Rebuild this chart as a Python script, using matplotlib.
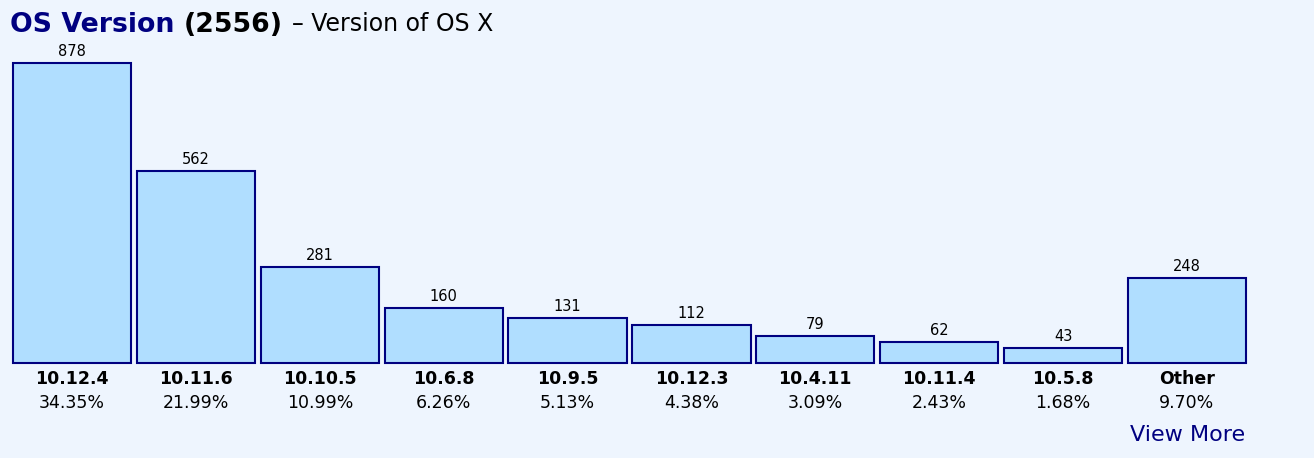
import matplotlib
matplotlib.use('Agg')
import matplotlib.pyplot as plt

# chart data
versions = ['10.12.4', '10.11.6', '10.10.5', '10.6.8', '10.9.5', '10.12.3', '10.4.11', '10.11.4', '10.5.8', 'Other']
counts = [878, 562, 281, 160, 131, 112, 79, 62, 43, 248]
percents = ['34.35%', '21.99%', '10.99%', '6.26%', '5.13%', '4.38%', '3.09%', '2.43%', '1.68%', '9.70%']
total = 2556

W, H = 1314, 458
bg = '#eef5fe'
navy = '#000080'

fig = plt.figure(figsize=(W / 100, H / 100), dpi=100, facecolor=bg)
ax = fig.add_axes([13 / W, 95 / H, 1233 / W, 300 / H])
ax.set_facecolor(bg)

x = list(range(len(versions)))
bars = ax.bar(x, counts, width=0.955, color='#b0deff', edgecolor=navy, linewidth=1.5)
for b in bars:
    b.set_clip_on(False)
ax.set_xlim(-0.4775, len(versions) - 1 + 0.4775)
ax.set_ylim(0, max(counts))
ax.axis('off')

for i, c in enumerate(counts):
    ax.annotate(str(c), (i, c), xytext=(0, 3), textcoords='offset points',
                ha='center', va='bottom', fontsize=10.5, annotation_clip=False)
    ax.annotate(versions[i], (i, 0), xytext=(0, -5), textcoords='offset points',
                ha='center', va='top', fontsize=12.5, fontweight='bold', annotation_clip=False)
    ax.annotate(percents[i], (i, 0), xytext=(0, -22), textcoords='offset points',
                ha='center', va='top', fontsize=12.5, annotation_clip=False)

# title pieces, laid out one after another
fig.canvas.draw()
r = fig.canvas.get_renderer()
t1 = fig.text(10 / W, 1 - 32 / H, 'OS Version ', fontsize=19.3, fontweight='bold', color=navy)
x1 = t1.get_window_extent(r).x1
t2 = fig.text(x1 / W, 1 - 32 / H, f'({total})', fontsize=19.3, fontweight='bold', color='black')
x2 = t2.get_window_extent(r).x1
fig.text((x2 + 9) / W, 1 - 31 / H, '– Version of OS X', fontsize=17, color='black')

fig.text(1188 / W, 1 - 441 / H, 'View More', fontsize=16, color=navy, ha='center')

fig.savefig('out.png', dpi=100, facecolor=bg)
